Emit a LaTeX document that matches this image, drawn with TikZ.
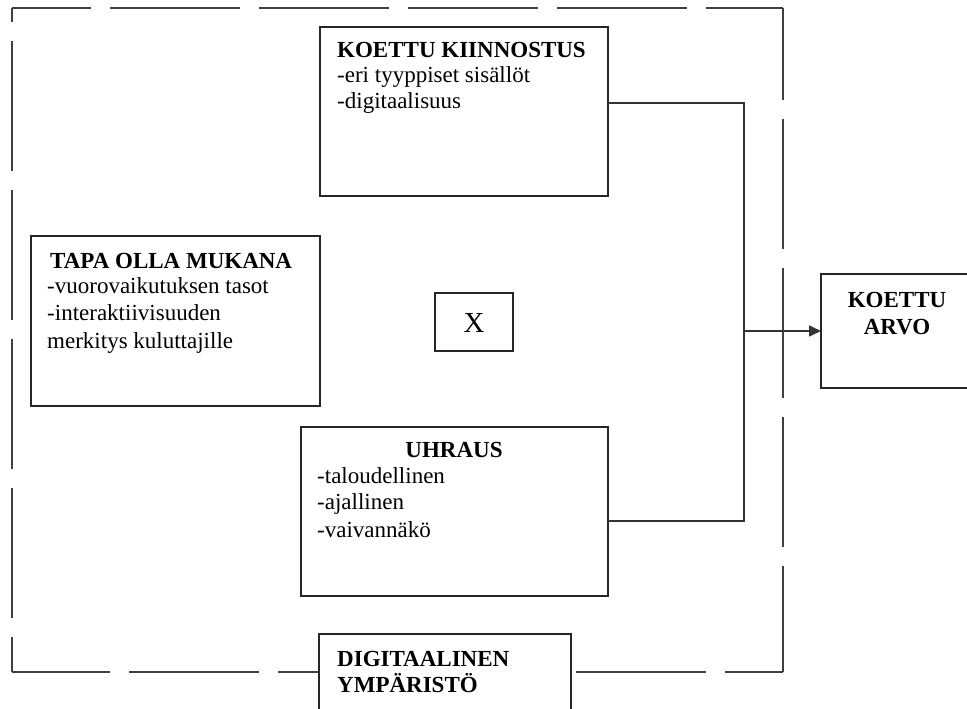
\documentclass[tikz,border=0pt]{standalone}
\usepackage{fontspec}
\setmainfont{Liberation Serif}
\usetikzlibrary{arrows.meta}
\begin{document}
\begin{tikzpicture}[x=1pt,y=-1pt,
  box/.style={draw=black!85,line width=1.7pt,fill=white},
  conn/.style={draw=black!80,line width=1.6pt},
  frame/.style={black!75,line width=1.8pt,dash pattern=on 130pt off 19pt},
  hd/.style={font=\fontsize{23}{25}\selectfont\bfseries,inner sep=0pt,anchor=base west},
  tx/.style={font=\fontsize{23}{25}\selectfont,inner sep=0pt,anchor=base west}]
\useasboundingbox (0,0) rectangle (967,709);
% dashed environment frame
\coordinate (ftl) at (12,8);
\coordinate (ftr) at (783,8);
\coordinate (fbr) at (783,672);
\coordinate (fbl) at (12,672);
\draw[frame,dash phase=51pt] (ftl) -- (ftr);
\draw[frame,dash phase=38pt] (ftr) -- (fbr);
\draw[frame,dash phase=72pt] (fbr) -- (fbl);
\draw[frame,dash phase=95pt] (fbl) -- (ftl);
% boxes
\path[box] (320,27) rectangle (608,196);
\coordinate (kkE) at (608,103);
\path[box] (31,236) rectangle (320,406);
\path[box] (301,427) rectangle (608,596);
\coordinate (uhE) at (608,521);
\path[box] (435,293) rectangle (513,351);
\path[box] (821,274) rectangle (975,388);
\coordinate (kaW) at (821,331);
\path[box] (319,634) rectangle (571,720);
% junction
\coordinate (j1) at (744,103);
\coordinate (j2) at (744,521);
\coordinate (jm) at (744,331);
\draw[conn] (kkE) -- (j1) -- (j2) -- (uhE);
\draw[conn,-{Triangle[length=12pt,width=11pt]}] (jm) -- (kaW);
% texts
\node[hd] (kkh) at (337,58) {KOETTU KIINNOSTUS};
\node[tx] (kk1) at (337,83) {-eri tyyppiset sisällöt};
\node[tx] (kk2) at (337,108) {-digitaalisuus};
\node[hd] (tph) at (50,268) {TAPA OLLA MUKANA};
\node[tx] (tp1) at (47,293) {-vuorovaikutuksen tasot};
\node[tx] (tp2) at (47,320) {-interaktiivisuuden};
\node[tx] (tp3) at (47,348) {merkitys kuluttajille};
\node[hd,anchor=base] (uhh) at (454,457) {UHRAUS};
\node[tx] (uh1) at (317,483) {-taloudellinen};
\node[tx] (uh2) at (317,509) {-ajallinen};
\node[tx] (uh3) at (317,537) {-vaivannäkö};
\node[font=\fontsize{29}{30}\selectfont,inner sep=0pt,anchor=base] (x) at (474,332) {X};
\node[hd,anchor=base] (ka1) at (897,307) {KOETTU};
\node[hd,anchor=base] (ka2) at (897,334) {ARVO};
\node[hd] (dy1) at (337,666) {DIGITAALINEN};
\node[hd] (dy2) at (337,692) {YMPÄRISTÖ};
\end{tikzpicture}
\end{document}
